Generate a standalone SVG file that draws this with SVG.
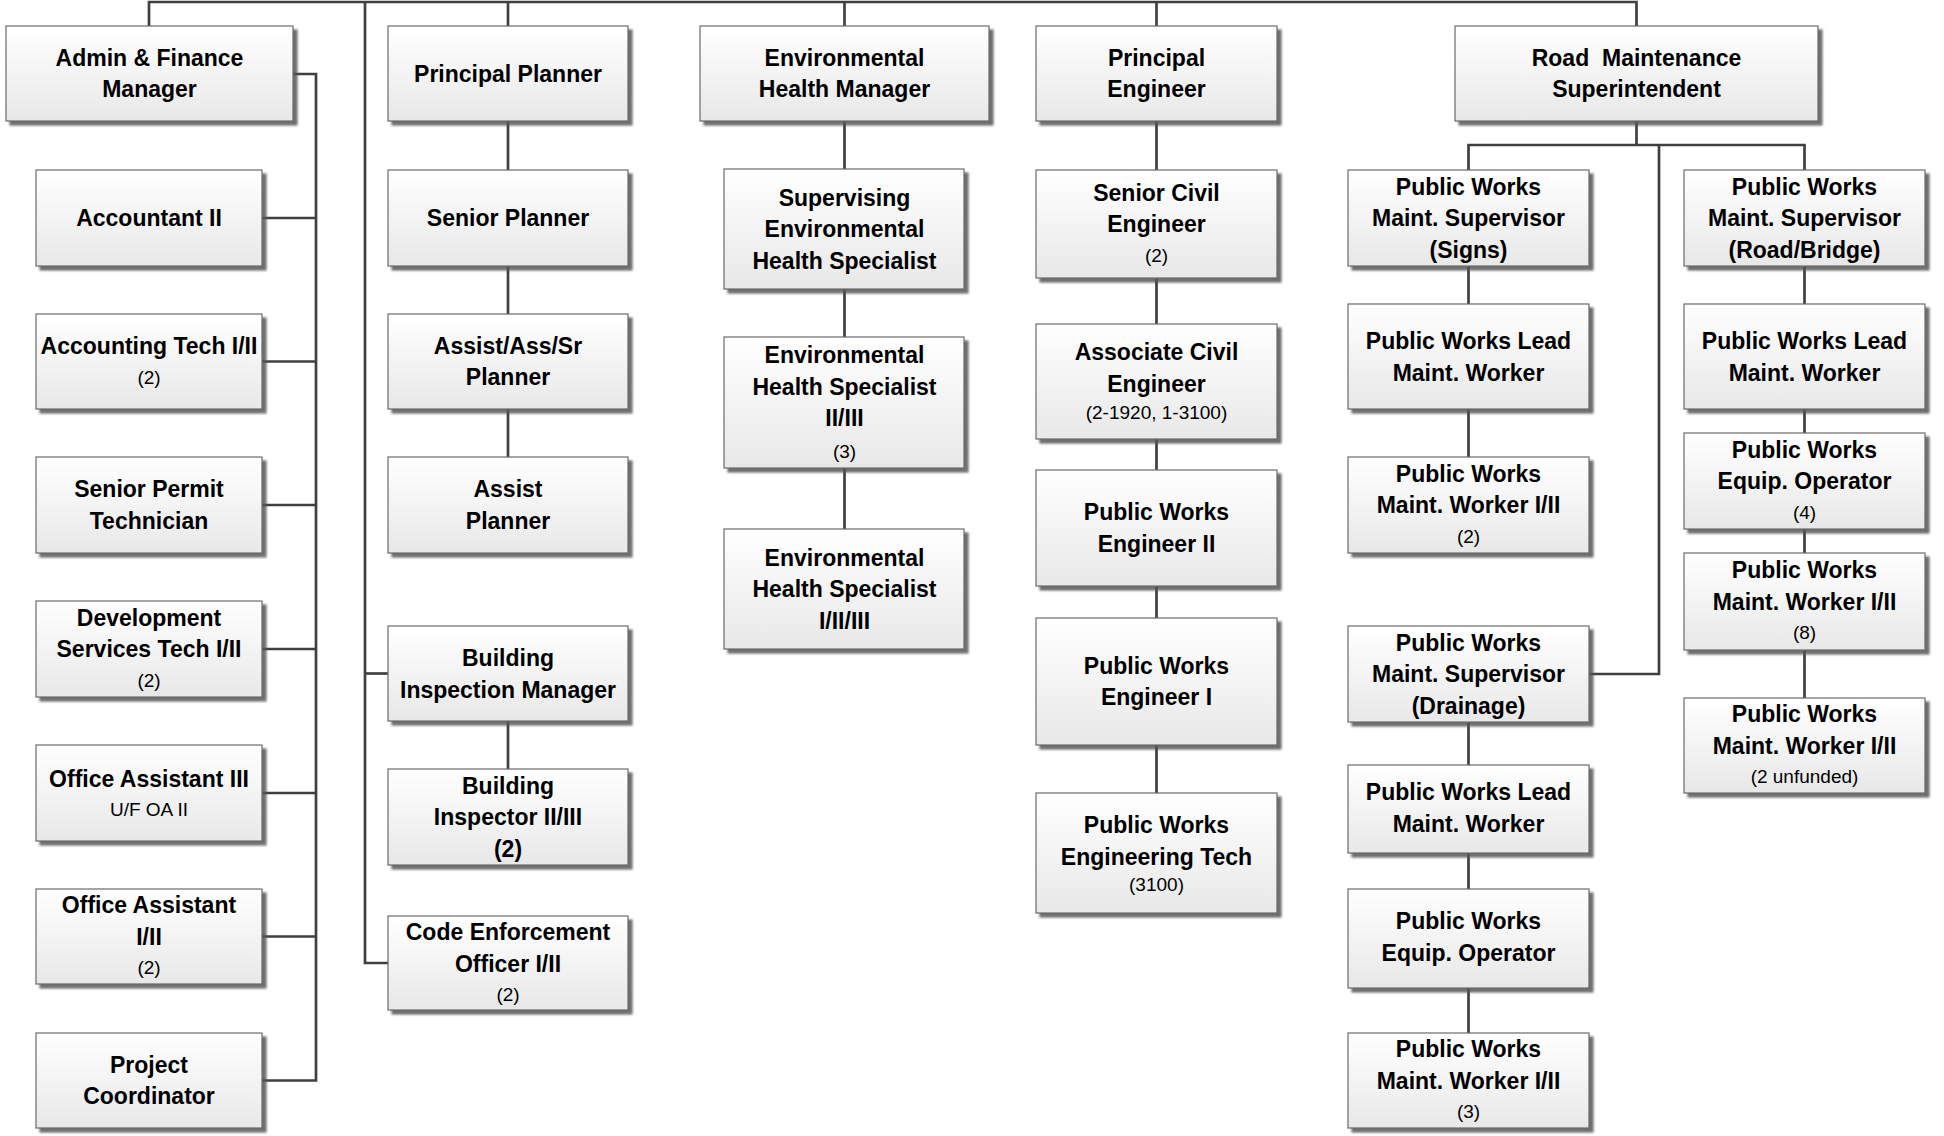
<svg xmlns="http://www.w3.org/2000/svg" width="1944" height="1136" viewBox="0 0 1944 1136">
<defs>
<linearGradient id="gf" x1="0" y1="0" x2="0" y2="1">
<stop offset="0" stop-color="#ffffff"/>
<stop offset="1" stop-color="#e8e8e8"/>
</linearGradient>
<filter id="sh" x="-5%" y="-5%" width="115%" height="120%">
<feDropShadow dx="4" dy="4" stdDeviation="1.2" flood-color="#555555" flood-opacity="0.85"/>
</filter>
<style>
.box{fill:url(#gf);stroke:#6a6a6a;stroke-width:1.2;filter:url(#sh)}
.c{fill:none;stroke:#404040;stroke-width:2.7}
text{font-family:"Liberation Sans",Arial,sans-serif;text-anchor:middle;fill:#000}
.b{font-size:23px;font-weight:bold}
.s{font-size:19px}
</style>
</defs>
<rect width="1944" height="1136" fill="#ffffff"/>
<g id="connectors">
<path class="c" d="M149,26 V2 H1636.5 V26"/>
<path class="c" d="M365,2 V963 H388"/>
<path class="c" d="M365,673.5 H388"/>
<path class="c" d="M508,2 V26"/>
<path class="c" d="M844.5,2 V26"/>
<path class="c" d="M1156.5,2 V26"/>
<path class="c" d="M293,74 H316 V1080.5 H262"/>
<path class="c" d="M316,218 H262 M316,361.5 H262 M316,505 H262 M316,649 H262 M316,793 H262 M316,936.5 H262"/>
<path class="c" d="M508,121 V170 M508,266 V314 M508,409 V457 M508,721 V769"/>
<path class="c" d="M844.5,121 V169 M844.5,289 V337 M844.5,468 V529"/>
<path class="c" d="M1156.5,121 V170 M1156.5,278 V324 M1156.5,439 V470 M1156.5,586 V618 M1156.5,745 V793"/>
<path class="c" d="M1636.5,121 V145"/>
<path class="c" d="M1468.5,170 V145 H1804.5 V170"/>
<path class="c" d="M1659,145 V674 H1589"/>
<path class="c" d="M1468.5,266 V304 M1468.5,409 V457 M1468.5,722 V765 M1468.5,853 V889 M1468.5,988 V1033"/>
<path class="c" d="M1804.5,266 V304 M1804.5,409 V433 M1804.5,529 V553 M1804.5,650 V698"/>
</g>

<g id="admin-finance-manager">
<rect class="box" x="6" y="26" width="287" height="95"/>
<text class="b"><tspan x="149.5" y="66">Admin &amp; Finance</tspan><tspan x="149.5" y="97">Manager</tspan></text>
</g>
<g id="accountant-ii">
<rect class="box" x="36" y="170" width="226" height="96"/>
<text class="b"><tspan x="149" y="226">Accountant II</tspan></text>
</g>
<g id="accounting-tech">
<rect class="box" x="36" y="314" width="226" height="95"/>
<text class="b"><tspan x="149" y="354">Accounting Tech I/II</tspan></text>
<text class="s"><tspan x="149" y="384">(2)</tspan></text>
</g>
<g id="senior-permit-technician">
<rect class="box" x="36" y="457" width="226" height="96"/>
<text class="b"><tspan x="149" y="497">Senior Permit</tspan><tspan x="149" y="529">Technician</tspan></text>
</g>
<g id="development-services-tech">
<rect class="box" x="36" y="601" width="226" height="96"/>
<text class="b"><tspan x="149" y="625.5">Development</tspan><tspan x="149" y="657">Services Tech I/II</tspan></text>
<text class="s"><tspan x="149" y="687">(2)</tspan></text>
</g>
<g id="office-assistant-iii">
<rect class="box" x="36" y="745" width="226" height="96"/>
<text class="b"><tspan x="149" y="787">Office Assistant III</tspan></text>
<text class="s"><tspan x="149" y="816">U/F OA II</tspan></text>
</g>
<g id="office-assistant-i-ii">
<rect class="box" x="36" y="889" width="226" height="95"/>
<text class="b"><tspan x="149" y="913">Office Assistant</tspan><tspan x="149" y="944.5">I/II</tspan></text>
<text class="s"><tspan x="149" y="974">(2)</tspan></text>
</g>
<g id="project-coordinator">
<rect class="box" x="36" y="1033" width="226" height="95"/>
<text class="b"><tspan x="149" y="1073">Project</tspan><tspan x="149" y="1104">Coordinator</tspan></text>
</g>

<g id="principal-planner">
<rect class="box" x="388" y="26" width="240" height="95"/>
<text class="b"><tspan x="508" y="81.5">Principal Planner</tspan></text>
</g>
<g id="senior-planner">
<rect class="box" x="388" y="170" width="240" height="96"/>
<text class="b"><tspan x="508" y="226">Senior Planner</tspan></text>
</g>
<g id="assist-ass-sr-planner">
<rect class="box" x="388" y="314" width="240" height="95"/>
<text class="b"><tspan x="508" y="354">Assist/Ass/Sr</tspan><tspan x="508" y="385">Planner</tspan></text>
</g>
<g id="assist-planner">
<rect class="box" x="388" y="457" width="240" height="96"/>
<text class="b"><tspan x="508" y="497">Assist</tspan><tspan x="508" y="529">Planner</tspan></text>
</g>
<g id="building-inspection-manager">
<rect class="box" x="388" y="626" width="240" height="95"/>
<text class="b"><tspan x="508" y="666">Building</tspan><tspan x="508" y="697.5">Inspection Manager</tspan></text>
</g>
<g id="building-inspector">
<rect class="box" x="388" y="769" width="240" height="96"/>
<text class="b"><tspan x="508" y="793.5">Building</tspan><tspan x="508" y="825">Inspector II/III</tspan><tspan x="508" y="856.5">(2)</tspan></text>
</g>
<g id="code-enforcement-officer">
<rect class="box" x="388" y="916" width="240" height="94"/>
<text class="b"><tspan x="508" y="940">Code Enforcement</tspan><tspan x="508" y="971.5">Officer I/II</tspan></text>
<text class="s"><tspan x="508" y="1000.5">(2)</tspan></text>
</g>

<g id="environmental-health-manager">
<rect class="box" x="700" y="26" width="289" height="95"/>
<text class="b"><tspan x="844.5" y="66">Environmental</tspan><tspan x="844.5" y="97">Health Manager</tspan></text>
</g>
<g id="supervising-env-health-specialist">
<rect class="box" x="724" y="169" width="240" height="120"/>
<text class="b"><tspan x="844.5" y="205.5">Supervising</tspan><tspan x="844.5" y="237">Environmental</tspan><tspan x="844.5" y="268.5">Health Specialist</tspan></text>
</g>
<g id="env-health-specialist-ii-iii">
<rect class="box" x="724" y="337" width="240" height="131"/>
<text class="b"><tspan x="844.5" y="363">Environmental</tspan><tspan x="844.5" y="394.5">Health Specialist</tspan><tspan x="844.5" y="426">II/III</tspan></text>
<text class="s"><tspan x="844.5" y="458">(3)</tspan></text>
</g>
<g id="env-health-specialist-i-ii-iii">
<rect class="box" x="724" y="529" width="240" height="120"/>
<text class="b"><tspan x="844.5" y="565.5">Environmental</tspan><tspan x="844.5" y="597">Health Specialist</tspan><tspan x="844.5" y="628.5">I/II/III</tspan></text>
</g>

<g id="principal-engineer">
<rect class="box" x="1036" y="26" width="241" height="95"/>
<text class="b"><tspan x="1156.5" y="66">Principal</tspan><tspan x="1156.5" y="97">Engineer</tspan></text>
</g>
<g id="senior-civil-engineer">
<rect class="box" x="1036" y="170" width="241" height="108"/>
<text class="b"><tspan x="1156.5" y="200.5">Senior Civil</tspan><tspan x="1156.5" y="232">Engineer</tspan></text>
<text class="s"><tspan x="1156.5" y="261.5">(2)</tspan></text>
</g>
<g id="associate-civil-engineer">
<rect class="box" x="1036" y="324" width="241" height="115"/>
<text class="b"><tspan x="1156.5" y="360">Associate Civil</tspan><tspan x="1156.5" y="391.5">Engineer</tspan></text>
<text class="s"><tspan x="1156.5" y="419">(2-1920, 1-3100)</tspan></text>
</g>
<g id="public-works-engineer-ii">
<rect class="box" x="1036" y="470" width="241" height="116"/>
<text class="b"><tspan x="1156.5" y="520">Public Works</tspan><tspan x="1156.5" y="551.5">Engineer II</tspan></text>
</g>
<g id="public-works-engineer-i">
<rect class="box" x="1036" y="618" width="241" height="127"/>
<text class="b"><tspan x="1156.5" y="673.5">Public Works</tspan><tspan x="1156.5" y="705">Engineer I</tspan></text>
</g>
<g id="public-works-engineering-tech">
<rect class="box" x="1036" y="793" width="241" height="120"/>
<text class="b"><tspan x="1156.5" y="832.5">Public Works</tspan><tspan x="1156.5" y="864.5">Engineering Tech</tspan></text>
<text class="s"><tspan x="1156.5" y="891">(3100)</tspan></text>
</g>

<g id="road-maintenance-superintendent">
<rect class="box" x="1455" y="26" width="363" height="95"/>
<text class="b"><tspan x="1636.5" y="66">Road&#160; Maintenance</tspan><tspan x="1636.5" y="97">Superintendent</tspan></text>
</g>
<g id="pw-maint-supervisor-signs">
<rect class="box" x="1348" y="170" width="241" height="96"/>
<text class="b"><tspan x="1468.5" y="194.5">Public Works</tspan><tspan x="1468.5" y="226">Maint. Supervisor</tspan><tspan x="1468.5" y="257.5">(Signs)</tspan></text>
</g>
<g id="pw-lead-maint-worker-signs">
<rect class="box" x="1348" y="304" width="241" height="105"/>
<text class="b"><tspan x="1468.5" y="349">Public Works Lead</tspan><tspan x="1468.5" y="380.5">Maint. Worker</tspan></text>
</g>
<g id="pw-maint-worker-signs">
<rect class="box" x="1348" y="457" width="241" height="96"/>
<text class="b"><tspan x="1468.5" y="481.5">Public Works</tspan><tspan x="1468.5" y="513">Maint. Worker I/II</tspan></text>
<text class="s"><tspan x="1468.5" y="542.5">(2)</tspan></text>
</g>
<g id="pw-maint-supervisor-drainage">
<rect class="box" x="1348" y="626" width="241" height="96"/>
<text class="b"><tspan x="1468.5" y="650.5">Public Works</tspan><tspan x="1468.5" y="682">Maint. Supervisor</tspan><tspan x="1468.5" y="713.5">(Drainage)</tspan></text>
</g>
<g id="pw-lead-maint-worker-drainage">
<rect class="box" x="1348" y="765" width="241" height="88"/>
<text class="b"><tspan x="1468.5" y="800">Public Works Lead</tspan><tspan x="1468.5" y="831.5">Maint. Worker</tspan></text>
</g>
<g id="pw-equip-operator-drainage">
<rect class="box" x="1348" y="889" width="241" height="99"/>
<text class="b"><tspan x="1468.5" y="929">Public Works</tspan><tspan x="1468.5" y="960.5">Equip. Operator</tspan></text>
</g>
<g id="pw-maint-worker-drainage">
<rect class="box" x="1348" y="1033" width="241" height="95"/>
<text class="b"><tspan x="1468.5" y="1057">Public Works</tspan><tspan x="1468.5" y="1088.5">Maint. Worker I/II</tspan></text>
<text class="s"><tspan x="1468.5" y="1118">(3)</tspan></text>
</g>

<g id="pw-maint-supervisor-road-bridge">
<rect class="box" x="1684" y="170" width="241" height="96"/>
<text class="b"><tspan x="1804.5" y="194.5">Public Works</tspan><tspan x="1804.5" y="226">Maint. Supervisor</tspan><tspan x="1804.5" y="257.5">(Road/Bridge)</tspan></text>
</g>
<g id="pw-lead-maint-worker-road">
<rect class="box" x="1684" y="304" width="241" height="105"/>
<text class="b"><tspan x="1804.5" y="349">Public Works Lead</tspan><tspan x="1804.5" y="380.5">Maint. Worker</tspan></text>
</g>
<g id="pw-equip-operator-road">
<rect class="box" x="1684" y="433" width="241" height="96"/>
<text class="b"><tspan x="1804.5" y="457.5">Public Works</tspan><tspan x="1804.5" y="489">Equip. Operator</tspan></text>
<text class="s"><tspan x="1804.5" y="518.5">(4)</tspan></text>
</g>
<g id="pw-maint-worker-road-8">
<rect class="box" x="1684" y="553" width="241" height="97"/>
<text class="b"><tspan x="1804.5" y="578">Public Works</tspan><tspan x="1804.5" y="609.5">Maint. Worker I/II</tspan></text>
<text class="s"><tspan x="1804.5" y="639">(8)</tspan></text>
</g>
<g id="pw-maint-worker-road-unfunded">
<rect class="box" x="1684" y="698" width="241" height="95"/>
<text class="b"><tspan x="1804.5" y="722">Public Works</tspan><tspan x="1804.5" y="753.5">Maint. Worker I/II</tspan></text>
<text class="s"><tspan x="1804.5" y="783">(2 unfunded)</tspan></text>
</g>
</svg>
